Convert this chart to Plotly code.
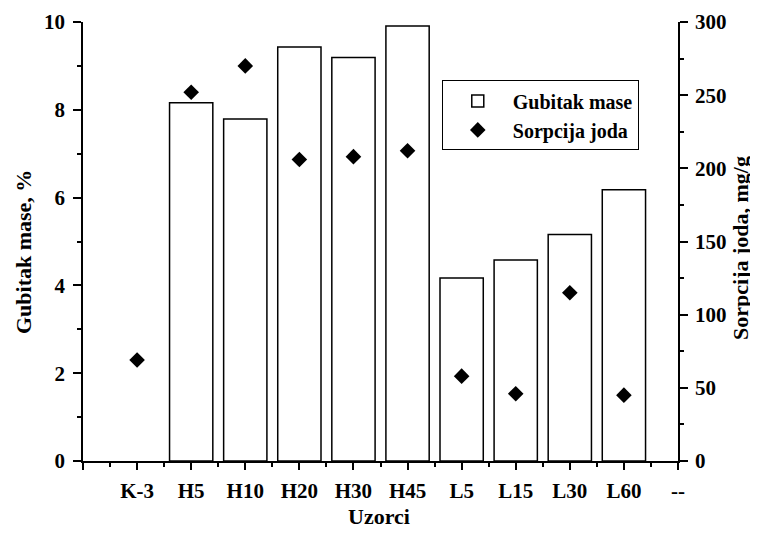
import plotly.graph_objects as go

# Data
tick_labels = ["", "K-3", "H5", "H10", "H20", "H30", "H45", "L5", "L15", "L30", "L60", "--"]
samples = ["K-3", "H5", "H10", "H20", "H30", "H45", "L5", "L15", "L30", "L60"]
sample_pos = [1, 2, 3, 4, 5, 6, 7, 8, 9, 10]
mass_loss = [None, 8.16, 7.79, 9.43, 9.19, 9.91, 4.17, 4.58, 5.16, 6.18]
iodine_sorption = [69, 252, 270, 206, 208, 212, 58, 46, 115, 45]

x_title = "Uzorci"
y_title = "Gubitak mase, %"
y2_title = "Sorpcija joda, mg/g"

FONT = "Liberation Serif, Times New Roman, serif"

fig = go.Figure()
fig.add_trace(go.Bar(
    x=sample_pos, y=mass_loss, name="Gubitak mase", width=0.8,
    marker=dict(color="white", line=dict(color="black", width=1.5)),
    xaxis="x", yaxis="y",
))
fig.add_trace(go.Scatter(
    x=sample_pos, y=iodine_sorption, name="Sorpcija joda", mode="markers",
    marker=dict(symbol="diamond", size=12, color="black"),
    xaxis="x", yaxis="y2",
))

axis_font = dict(family=FONT, size=21, color="black", weight="bold")
title_font = dict(family=FONT, size=22, color="black", weight="bold")

fig.update_layout(
    template="none",
    width=750, height=525,
    margin=dict(l=75, r=80, t=14, b=72),
    plot_bgcolor="white", paper_bgcolor="white",
    font=dict(family=FONT, color="black"),
    showlegend=True,
    legend=dict(
        x=0.603, y=0.867, xanchor="left", yanchor="top",
        bgcolor="white", bordercolor="black", borderwidth=1,
        font=dict(family=FONT, size=20, color="black", weight="bold"),
        tracegroupgap=0, itemwidth=60,
    ),
    xaxis=dict(
        range=[0, 11], tickmode="array", tickvals=list(range(12)), ticktext=tick_labels,
        showline=True, linecolor="black", linewidth=1.5,
        ticks="outside", ticklen=7, tickwidth=1.5, tickcolor="black",
        tickfont=axis_font, showgrid=False, zeroline=False, automargin=False,
        ticklabelstandoff=3,
        minor=dict(tickmode="linear", tick0=0.5, dtick=1, ticks="outside", ticklen=4,
                   tickwidth=1.5, tickcolor="black", showgrid=False),
    ),
    xaxis2=dict(
        range=[0, 11], overlaying="x", side="top", showline=True, linecolor="black",
        linewidth=1.5, ticks="inside", ticklen=2, tickwidth=1, tickcolor="black",
        tickmode="linear", tick0=0, dtick=0.5, showticklabels=False, showgrid=False,
        zeroline=False, automargin=False,
    ),
    yaxis=dict(
        range=[0, 10], tickmode="linear", tick0=0, dtick=2,
        showline=True, linecolor="black", linewidth=1.5,
        ticks="outside", ticklen=8, tickwidth=1.5, tickcolor="black",
        tickfont=axis_font, showgrid=False, zeroline=False, automargin=False,
        ticklabelstandoff=4,
        minor=dict(tickmode="linear", tick0=1, dtick=2, ticks="outside", ticklen=4,
                   tickwidth=1.5, tickcolor="black", showgrid=False),
    ),
    yaxis2=dict(
        range=[0, 300], overlaying="y", side="right", tickmode="linear", tick0=0, dtick=50,
        showline=True, linecolor="black", linewidth=1.5,
        ticks="outside", ticklen=8, tickwidth=1.5, tickcolor="black",
        tickfont=axis_font, showgrid=False, zeroline=False, automargin=False,
        ticklabelstandoff=3,
        minor=dict(tickmode="linear", tick0=25, dtick=50, ticks="outside", ticklen=4,
                   tickwidth=1.5, tickcolor="black", showgrid=False),
    ),
    annotations=[
        dict(text=x_title, xref="paper", yref="paper", x=0.497, y=-0.16,
             xanchor="center", yanchor="bottom", showarrow=False, font=title_font),
        dict(text=y_title, xref="paper", yref="paper", x=-0.1008, y=0.476,
             xanchor="center", yanchor="middle", textangle=-90, showarrow=False,
             font=title_font),
        dict(text=y2_title, xref="paper", yref="paper", x=1.104, y=0.485,
             xanchor="center", yanchor="middle", textangle=-90, showarrow=False,
             font=title_font),
    ],
)

fig.write_html("out.html")
